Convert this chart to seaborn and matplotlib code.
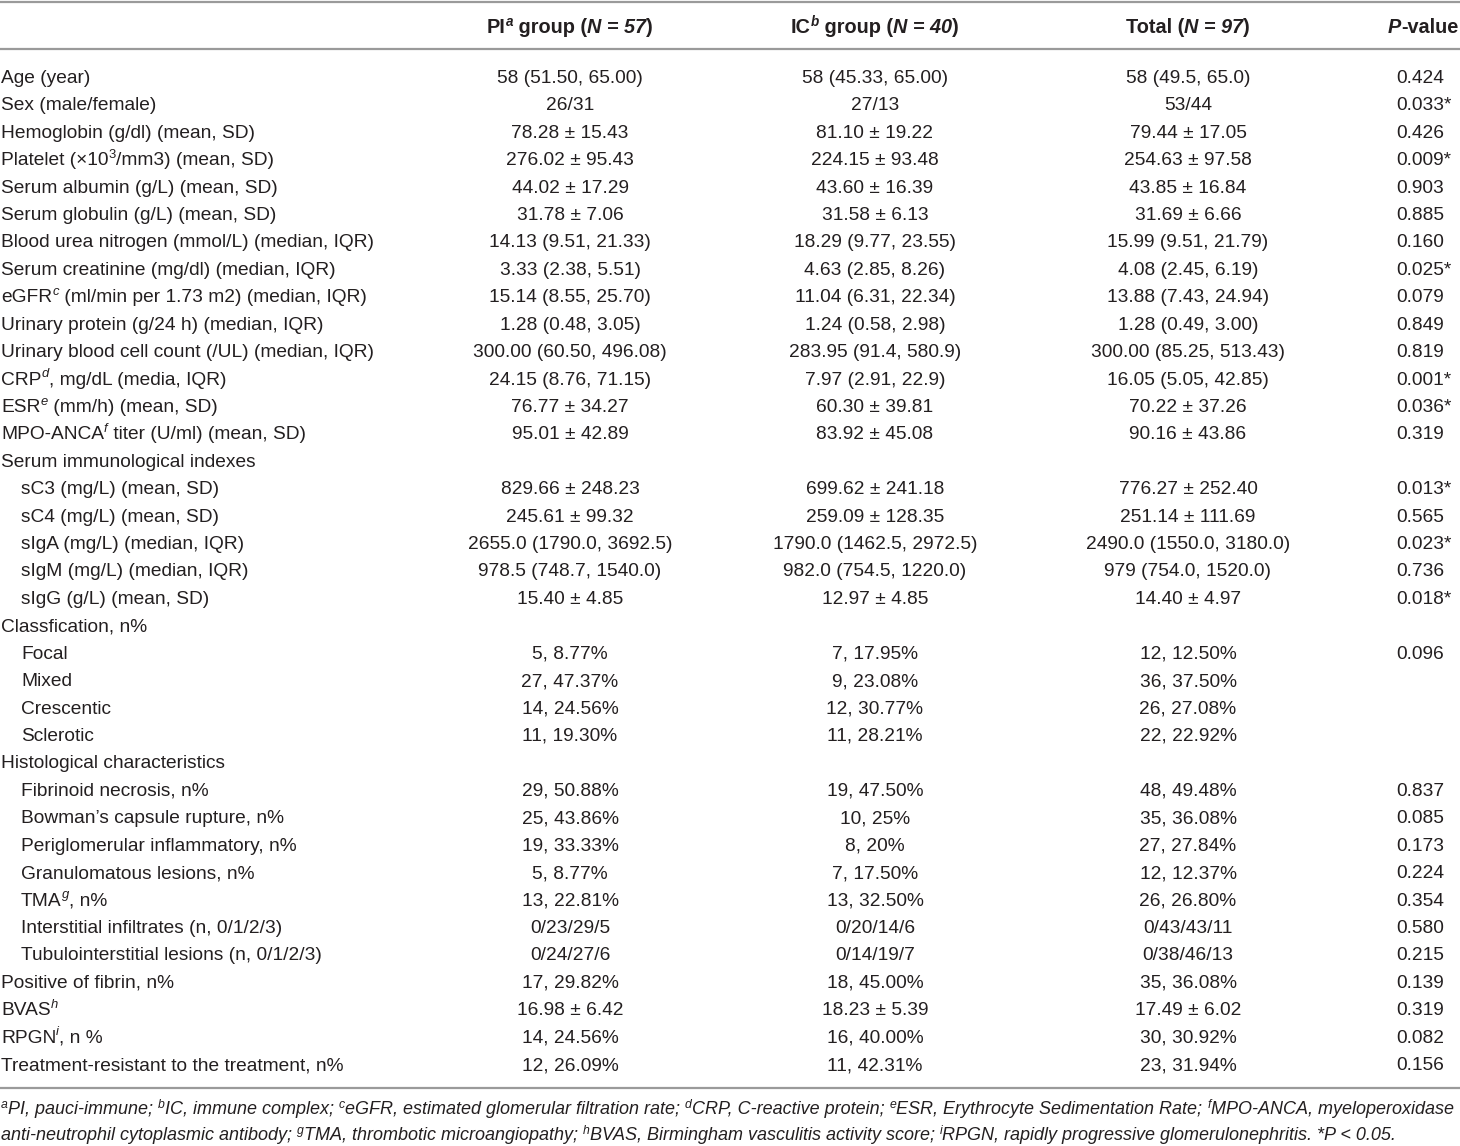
import re
import matplotlib
matplotlib.use('Agg')
import matplotlib.pyplot as plt
import seaborn as sns

# table content
header_labels = ['PI<sup>a</sup> group (<i>N = 57</i>)',
                 'IC<sup>b</sup> group (<i>N = 40</i>)',
                 'Total (<i>N = 97</i>)',
                 '<i>P</i>-value']

row_labels = [
    'Age (year)', 'Sex (male/female)', 'Hemoglobin (g/dl) (mean, SD)',
    'Platelet (\u00d710<sup>3</sup>/mm3) (mean, SD)', 'Serum albumin (g/L) (mean, SD)',
    'Serum globulin (g/L) (mean, SD)', 'Blood urea nitrogen (mmol/L) (median, IQR)',
    'Serum creatinine (mg/dl) (median, IQR)',
    'eGFR<sup>c</sup> (ml/min per 1.73 m2) (median, IQR)',
    'Urinary protein (g/24 h) (median, IQR)',
    'Urinary blood cell count (/UL) (median, IQR)',
    'CRP<sup>d</sup>, mg/dL (media, IQR)', 'ESR<sup>e</sup> (mm/h) (mean, SD)',
    'MPO-ANCA<sup>f</sup> titer (U/ml) (mean, SD)', 'Serum immunological indexes',
    'sC3 (mg/L) (mean, SD)', 'sC4 (mg/L) (mean, SD)', 'sIgA (mg/L) (median, IQR)',
    'sIgM (mg/L) (median, IQR)', 'sIgG (g/L) (mean, SD)', 'Classfication, n%',
    'Focal', 'Mixed', 'Crescentic', 'Sclerotic', 'Histological characteristics',
    'Fibrinoid necrosis, n%', 'Bowman\u2019s capsule rupture, n%',
    'Periglomerular inflammatory, n%', 'Granulomatous lesions, n%',
    'TMA<sup>g</sup>, n%', 'Interstitial infiltrates (n, 0/1/2/3)',
    'Tubulointerstitial lesions (n, 0/1/2/3)', 'Positive of fibrin, n%',
    'BVAS<sup>h</sup>', 'RPGN<sup>i</sup>, n %',
    'Treatment-resistant to the treatment, n%',
]

indented = [15, 16, 17, 18, 19, 21, 22, 23, 24, 26, 27, 28, 29, 30, 31, 32]

pi_vals = [
    '58 (51.50, 65.00)', '26/31', '78.28 \u00b1 15.43', '276.02 \u00b1 95.43',
    '44.02 \u00b1 17.29', '31.78 \u00b1 7.06', '14.13 (9.51, 21.33)', '3.33 (2.38, 5.51)',
    '15.14 (8.55, 25.70)', '1.28 (0.48, 3.05)', '300.00 (60.50, 496.08)',
    '24.15 (8.76, 71.15)', '76.77 \u00b1 34.27', '95.01 \u00b1 42.89', '',
    '829.66 \u00b1 248.23', '245.61 \u00b1 99.32', '2655.0 (1790.0, 3692.5)',
    '978.5 (748.7, 1540.0)', '15.40 \u00b1 4.85', '', '5, 8.77%', '27, 47.37%',
    '14, 24.56%', '11, 19.30%', '', '29, 50.88%', '25, 43.86%', '19, 33.33%',
    '5, 8.77%', '13, 22.81%', '0/23/29/5', '0/24/27/6', '17, 29.82%',
    '16.98 \u00b1 6.42', '14, 24.56%', '12, 26.09%',
]

ic_vals = [
    '58 (45.33, 65.00)', '27/13', '81.10 \u00b1 19.22', '224.15 \u00b1 93.48',
    '43.60 \u00b1 16.39', '31.58 \u00b1 6.13', '18.29 (9.77, 23.55)', '4.63 (2.85, 8.26)',
    '11.04 (6.31, 22.34)', '1.24 (0.58, 2.98)', '283.95 (91.4, 580.9)',
    '7.97 (2.91, 22.9)', '60.30 \u00b1 39.81', '83.92 \u00b1 45.08', '',
    '699.62 \u00b1 241.18', '259.09 \u00b1 128.35', '1790.0 (1462.5, 2972.5)',
    '982.0 (754.5, 1220.0)', '12.97 \u00b1 4.85', '', '7, 17.95%', '9, 23.08%',
    '12, 30.77%', '11, 28.21%', '', '19, 47.50%', '10, 25%', '8, 20%',
    '7, 17.50%', '13, 32.50%', '0/20/14/6', '0/14/19/7', '18, 45.00%',
    '18.23 \u00b1 5.39', '16, 40.00%', '11, 42.31%',
]

total_vals = [
    '58 (49.5, 65.0)', '53/44', '79.44 \u00b1 17.05', '254.63 \u00b1 97.58',
    '43.85 \u00b1 16.84', '31.69 \u00b1 6.66', '15.99 (9.51, 21.79)', '4.08 (2.45, 6.19)',
    '13.88 (7.43, 24.94)', '1.28 (0.49, 3.00)', '300.00 (85.25, 513.43)',
    '16.05 (5.05, 42.85)', '70.22 \u00b1 37.26', '90.16 \u00b1 43.86', '',
    '776.27 \u00b1 252.40', '251.14 \u00b1 111.69', '2490.0 (1550.0, 3180.0)',
    '979 (754.0, 1520.0)', '14.40 \u00b1 4.97', '', '12, 12.50%', '36, 37.50%',
    '26, 27.08%', '22, 22.92%', '', '48, 49.48%', '35, 36.08%', '27, 27.84%',
    '12, 12.37%', '26, 26.80%', '0/43/43/11', '0/38/46/13', '35, 36.08%',
    '17.49 \u00b1 6.02', '30, 30.92%', '23, 31.94%',
]

p_vals = [
    '0.424', '0.033*', '0.426', '0.009*', '0.903', '0.885', '0.160', '0.025*',
    '0.079', '0.849', '0.819', '0.001*', '0.036*', '0.319', '', '0.013*', '0.565',
    '0.023*', '0.736', '0.018*', '', '0.096', '', '', '', '', '0.837', '0.085',
    '0.173', '0.224', '0.354', '0.580', '0.215', '0.139', '0.319', '0.082', '0.156',
]

footnotes = [
    '<sup>a</sup>PI, pauci-immune; <sup>b</sup>IC, immune complex; <sup>c</sup>eGFR, '
    'estimated glomerular filtration rate; <sup>d</sup>CRP, C-reactive protein; '
    '<sup>e</sup>ESR, Erythrocyte Sedimentation Rate; <sup>f</sup>MPO-ANCA, myeloperoxidase',
    'anti-neutrophil cytoplasmic antibody; <sup>g</sup>TMA, thrombotic microangiopathy; '
    '<sup>h</sup>BVAS, Birmingham vasculitis activity score; <sup>i</sup>RPGN, '
    'rapidly progressive glomerulonephritis. *P < 0.05.',
]

# style
sns.set_theme(style='white')
plt.rcParams['font.family'] = ['Liberation Sans', 'DejaVu Sans']
FS = 13.8        # body text
FS_HEAD = 14.3   # bold header
FS_NOTE = 13.0   # footnotes
TXT = '#231f20'
LINE = '#9a9a9a'

W, H = 1460, 1146
fig = plt.figure(figsize=(W / 100, H / 100), dpi=100)
ax = fig.add_axes([0, 0, 1, 1])
ax.set_xlim(0, W)
ax.set_ylim(H, 0)
ax.axis('off')
renderer = fig.canvas.get_renderer()


def parse(s, bold=False, italic=False):
    runs = []
    sup = False
    ital = italic
    for tok in re.split(r'(<sup>|</sup>|<i>|</i>)', s):
        if tok == '<sup>':
            sup = True
        elif tok == '</sup>':
            sup = False
        elif tok == '<i>':
            ital = True
        elif tok == '</i>':
            ital = italic
        elif tok:
            it = ital or (sup and tok.isalpha())
            runs.append((tok, bold, it, sup))
    return runs


def measure(text, size, bold, it):
    # bars on both sides so leading / trailing spaces count
    kw = dict(fontsize=size, fontweight='bold' if bold else 'normal',
              fontstyle='italic' if it else 'normal')
    t1 = ax.text(0, 0, '|' + text + '|', **kw)
    t2 = ax.text(0, 0, '||', **kw)
    w = t1.get_window_extent(renderer).width - t2.get_window_extent(renderer).width
    t1.remove()
    t2.remove()
    return w


def draw(x, yc, s, ha='left', bold=False, italic=False, size=FS):
    runs = parse(s, bold, italic)
    sizes = [size * 0.68 if r[3] else size for r in runs]
    widths = [measure(r[0], sz, r[1], r[2]) for r, sz in zip(runs, sizes)]
    total = sum(widths)
    if ha == 'center':
        x -= total / 2
    elif ha == 'right':
        x -= total
    px = size * 100 / 72
    base = yc + px * 0.36
    for (text, b, it, sup), sz, w in zip(runs, sizes, widths):
        y = base - px * 0.38 if sup else base
        ax.text(x, y, text, fontsize=sz, color=TXT, va='baseline', ha='left',
                fontweight='bold' if b else 'normal',
                fontstyle='italic' if it else 'normal')
        x += w


# layout
col_x = [570, 875, 1188]
p_x = 1396
y0, pitch = 76, 27.42

for yl in [1.5, 49, 1088]:
    ax.plot([0, W], [yl, yl], color=LINE, lw=1.6, solid_capstyle='butt')

for lab, cx in zip(header_labels[:3], col_x):
    draw(cx, 26, lab, ha='center', bold=True, size=FS_HEAD)
draw(1458, 26, header_labels[3], ha='right', bold=True, size=FS_HEAD)

for i, lab in enumerate(row_labels):
    yc = y0 + i * pitch
    draw(21 if i in indented else 1, yc, lab)
    for vals, cx in zip([pi_vals, ic_vals, total_vals], col_x):
        if vals[i]:
            draw(cx, yc, vals[i], ha='center')
    if p_vals[i]:
        draw(p_x, yc, p_vals[i])

for j, fn in enumerate(footnotes):
    draw(1, 1108 + j * 26, fn, italic=True, size=FS_NOTE)

fig.savefig('out.png', dpi=100)
